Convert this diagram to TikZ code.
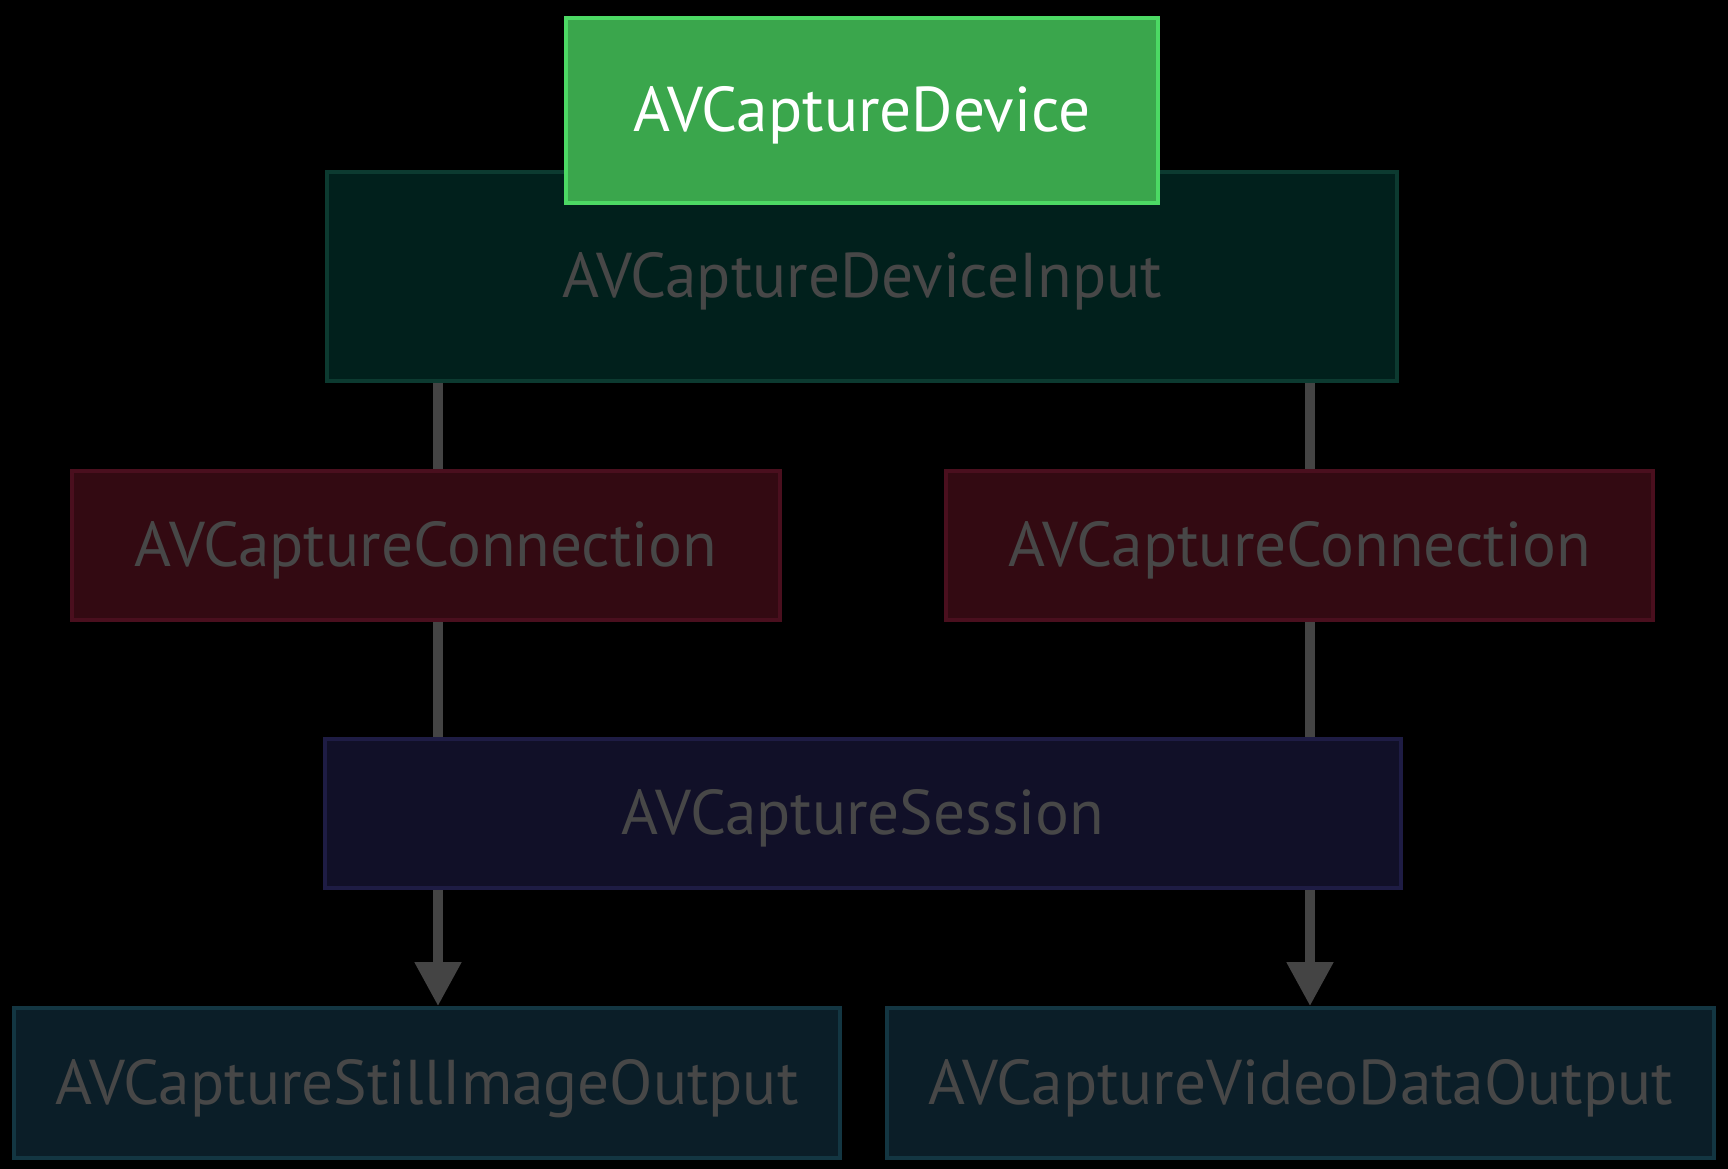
\documentclass[tikz,border=0pt]{standalone}
\usepackage{fontspec}
\setmainfont{PT Sans}
\usetikzlibrary{positioning,arrows.meta,calc}
\definecolor{avverde}{HTML}{3AA64C}
\definecolor{avverdeborda}{HTML}{4CD964}
\definecolor{aventrada}{HTML}{01201C}
\definecolor{aventradaborda}{HTML}{0C3A30}
\definecolor{avconexao}{HTML}{330A12}
\definecolor{avconexaoborda}{HTML}{4A0F1E}
\definecolor{avsessao}{HTML}{111028}
\definecolor{avsessaoborda}{HTML}{1E1C44}
\definecolor{avsaida}{HTML}{0B1E28}
\definecolor{avsaidaborda}{HTML}{133642}
\definecolor{avtexto}{HTML}{474747}
\definecolor{avlinha}{HTML}{444444}
\tikzset{
  avbloco/.style={rectangle, line width=1pt, align=center, text=avtexto,
                  font=\fontsize{18}{22}\selectfont, inner sep=0pt,
                  text height=15.5pt, text depth=3.5pt},
  avseta/.style={-{Triangle[length=4.4mm,width=4.4mm]}, line width=3pt, draw=avlinha},
  avlinhareta/.style={line width=3pt, draw=avlinha},
}
\begin{document}
\begin{tikzpicture}
  \fill[black] (0,0) rectangle (17.28,-11.69);
  \useasboundingbox (0,0) rectangle (17.28,-11.69);
  \node[avbloco, draw=aventradaborda, fill=aventrada, minimum width=10.7cm, minimum height=2.09cm] (inp) at (8.62,-2.765) {AVCaptureDeviceInput};
  \node[avbloco, draw=avverdeborda, fill=avverde, text=white, minimum width=5.92cm, minimum height=1.85cm] (dev) at (8.62,-1.105) {AVCaptureDevice};
  \node[avbloco, draw=avconexaoborda, fill=avconexao, minimum width=7.08cm, minimum height=1.49cm] (conl) at (4.26,-5.455) {AVCaptureConnection};
  \node[avbloco, draw=avconexaoborda, fill=avconexao, minimum width=7.07cm, minimum height=1.49cm] (conr) at (12.995,-5.455) {AVCaptureConnection};
  \node[avbloco, draw=avsessaoborda, fill=avsessao, minimum width=10.76cm, minimum height=1.49cm] (ses) at (8.63,-8.135) {AVCaptureSession};
  \node[avbloco, draw=avsaidaborda, fill=avsaida, minimum width=8.26cm, minimum height=1.5cm] (outl) at (4.27,-10.83) {AVCaptureStillImageOutput};
  \node[avbloco, draw=avsaidaborda, fill=avsaida, minimum width=8.27cm, minimum height=1.5cm] (outr) at (13.005,-10.83) {AVCaptureVideoDataOutput};
  \coordinate (xl) at (4.38,0);
  \coordinate (xr) at (13.1,0);
  \draw[avlinhareta] (inp.south -| xl) -- (conl.north -| xl);
  \draw[avlinhareta] (conl.south -| xl) -- (ses.north -| xl);
  \draw[avseta] (ses.south -| xl) -- (outl.north -| xl);
  \draw[avlinhareta] (inp.south -| xr) -- (conr.north -| xr);
  \draw[avlinhareta] (conr.south -| xr) -- (ses.north -| xr);
  \draw[avseta] (ses.south -| xr) -- (outr.north -| xr);
\end{tikzpicture}
\end{document}
